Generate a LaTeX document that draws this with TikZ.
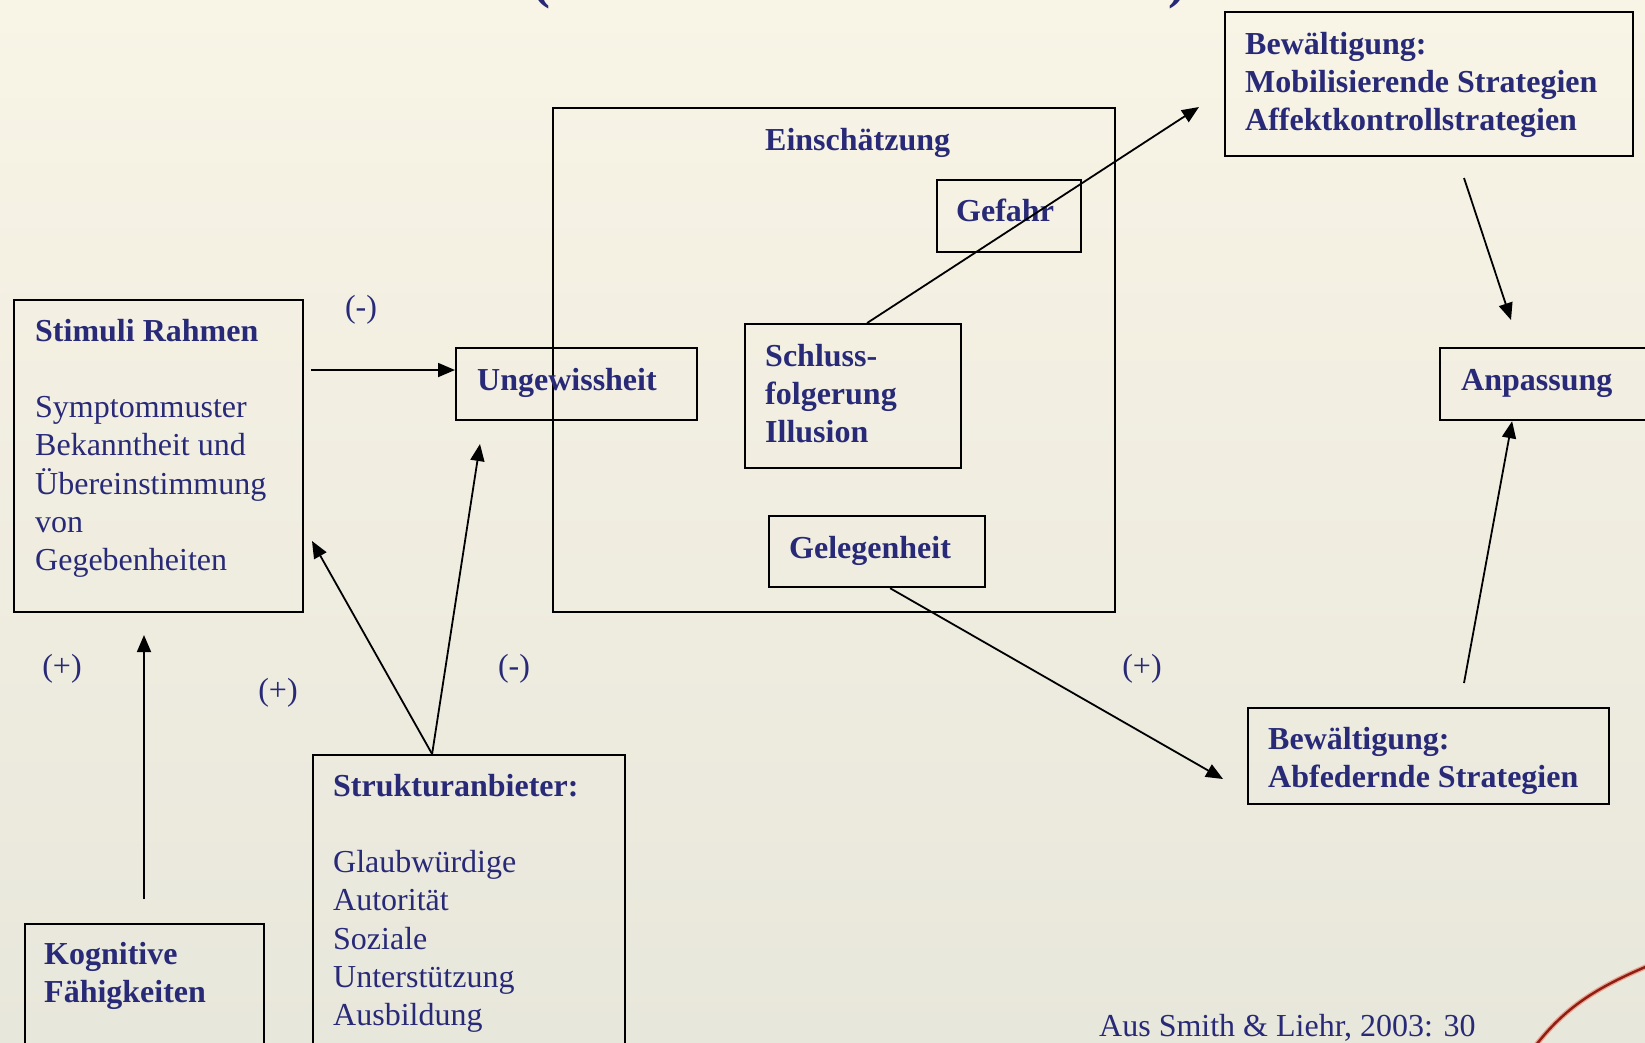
\documentclass[tikz,border=0pt]{standalone}
\usepackage{fontspec}
\setmainfont{Liberation Serif}
\usetikzlibrary{arrows.meta}
\definecolor{txt}{RGB}{40,42,120}
\definecolor{bgtop}{RGB}{248,244,230}
\definecolor{bgbot}{RGB}{232,231,219}
\definecolor{redline}{RGB}{140,30,20}
\definecolor{pinkline}{RGB}{235,160,140}
\begin{document}
\begin{tikzpicture}[x=1pt,y=-1pt,
  box/.style={draw=black,line width=2.2pt,rectangle,inner sep=0pt,anchor=north west},
  lbl/.style={text=txt,inner sep=0pt,yshift=-3pt,font=\fontsize{32}{38.3}\selectfont},
  ml/.style={lbl,align=left,anchor=north west},
  sl/.style={lbl,anchor=base west},
  sign/.style={lbl,anchor=center},
  arr/.style={line width=1.8pt,-{Triangle[length=17pt,width=14pt]}}]
\useasboundingbox (0,0) rectangle (1645,1042);
\clip (0,0) rectangle (1645,1042);
\fill[top color=bgtop,bottom color=bgbot] (0,0) rectangle (1645,1042);

% partial title parentheses (cut off at top)
\node[lbl,anchor=base,font=\fontsize{54}{60}\selectfont\bfseries] (lpar) at (541,-6) {(};
\node[lbl,anchor=base,font=\fontsize{54}{60}\selectfont\bfseries] (rpar) at (1177,-6) {)};

% boxes
\node[box,minimum width=289pt,minimum height=312pt] (stim) at (13,299) {};
\node[box,minimum width=241pt,minimum height=72pt] (ung) at (455,347) {};
\node[box,minimum width=562pt,minimum height=504pt] (ein) at (552,107) {};
\node[box,minimum width=144pt,minimum height=72pt] (gef) at (936,179) {};
\node[box,minimum width=216pt,minimum height=144pt] (schl) at (744,323) {};
\node[box,minimum width=216pt,minimum height=71pt] (gel) at (768,515) {};
\node[box,minimum width=408pt,minimum height=144pt] (bewa) at (1224,11) {};
\node[box,minimum width=260pt,minimum height=72pt] (anp) at (1439,347) {};
\node[box,minimum width=361pt,minimum height=96pt] (bewb) at (1247,707) {};
\node[box,minimum width=312pt,minimum height=330pt] (str) at (312,754) {};
\node[box,minimum width=239pt,minimum height=200pt] (kog) at (24,923) {};

% texts
\node[ml] (tstim) at (35,311) {\strut\textbf{Stimuli Rahmen}\\[38.3pt]Symptommuster\\Bekanntheit und\\Übereinstimmung\\von\\Gegebenheiten};
\node[sl] (tung) at (477,387) {\textbf{Ungewissheit}};
\node[sl] (tein) at (765,147) {\textbf{Einschätzung}};
\node[sl] (tgef) at (956,218) {\textbf{Gefahr}};
\node[ml] (tschl) at (765,336) {\strut\textbf{Schluss-}\\\textbf{folgerung}\\\textbf{Illusion}};
\node[sl] (tgel) at (789,555) {\textbf{Gelegenheit}};
\node[ml] (tbewa) at (1245,24) {\strut\textbf{Bewältigung:}\\\textbf{Mobilisierende Strategien}\\\textbf{Affektkontrollstrategien}};
\node[sl] (tanp) at (1461,387) {\textbf{Anpassung}};
\node[ml] (tbewb) at (1268,719) {\strut\textbf{Bewältigung:}\\\textbf{Abfedernde Strategien}};
\node[ml] (tstr) at (333,766) {\strut\textbf{Strukturanbieter:}\\[38.3pt]Glaubwürdige\\Autorität\\Soziale\\Unterstützung\\Ausbildung};
\node[ml] (tkog) at (44,934) {\strut\textbf{Kognitive}\\\textbf{Fähigkeiten}};
\node[sl] (src) at (1099,1033) {Aus Smith \& Liehr, 2003: 30};

% signs
\node[sign] (s1) at (361,307) {(-)};
\node[sign] (s2) at (62,666) {(+)};
\node[sign] (s3) at (278,690) {(+)};
\node[sign] (s4) at (514,666) {(-)};
\node[sign] (s5) at (1142,666) {(+)};

% free ends
\coordinate (c1) at (311,370);
\coordinate (c2) at (312,541);
\coordinate (c3) at (480,444);
\coordinate (c4) at (144,899);
\coordinate (c5) at (144,635);
\coordinate (c6) at (1199,107);
\coordinate (c7) at (1223,779);
\coordinate (c8) at (1464,178);
\coordinate (c9) at (1511,320);
\coordinate (c10) at (1464,683);

% connectors
\draw[arr] (c1) -- (ung.west |- c1);
\draw[arr] ([xshift=-37pt]str.north) -- (c2);
\draw[arr] ([xshift=-37pt]str.north) -- (c3);
\draw[arr] (c4) -- (c5);
\draw[arr] ([xshift=14pt]schl.north) -- (c6);
\draw[arr] ([xshift=13pt]gel.south) -- (c7);
\draw[arr] (c8) -- (c9);
\draw[arr] (c10) -- ([xshift=-58pt]anp.south);

% red curve bottom right
\draw[pinkline,line width=5pt,line cap=round] (1536,1045) .. controls (1565,1008) and (1595,988) .. (1650,965);
\draw[redline,line width=2.4pt,line cap=round] (1536,1045) .. controls (1565,1008) and (1595,988) .. (1650,965);
\end{tikzpicture}
\end{document}
